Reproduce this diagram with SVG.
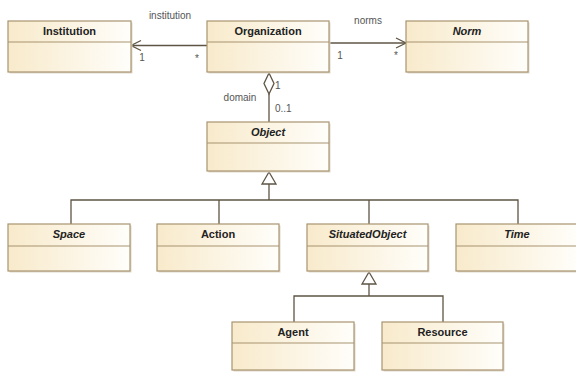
<svg xmlns="http://www.w3.org/2000/svg" width="576" height="372" viewBox="0 0 576 372">
<defs>
<linearGradient id="fill" x1="0" y1="0" x2="1" y2="0">
<stop offset="0" stop-color="#F8EACB"/>
<stop offset="1" stop-color="#FFFEFA"/>
</linearGradient>
</defs>
<style>
.box{fill:url(#fill);stroke:#A89470;stroke-width:1.2}
.shadow{fill:#E0D9CC}
.sep{stroke:#A89470;stroke-width:1.2}
.name{font-family:"Liberation Sans",Arial,sans-serif;font-size:11px;font-weight:bold;fill:#222;text-anchor:middle}
.abs{font-style:italic}
.lbl{font-family:"Liberation Sans",Arial,sans-serif;font-size:10px;fill:#555}
.ln{stroke:#5E5444;stroke-width:1.3;fill:none}
.hd{stroke:#5E5444;stroke-width:1.3;fill:#fff}
</style>
<rect width="576" height="372" fill="#fff"/>
<g id="connectors">
<line class="ln" x1="207" y1="45.5" x2="131" y2="45.5"/>
<polyline class="ln" points="141,40.5 131,45.5 141,50.5"/>
<line class="ln" x1="329" y1="43" x2="406" y2="43"/>
<polyline class="ln" points="396,38 406,43 396,48"/>
<line class="ln" x1="269" y1="94" x2="269" y2="122"/>
<path class="hd" d="M269,73 L274,83.5 L269,94 L264,83.5 Z"/>
<line class="ln" x1="269" y1="184" x2="269" y2="200"/>
<path class="hd" d="M269,172 L276,184 L262,184 Z"/>
<polyline class="ln" points="71,224 71,200 518,200 518,224"/>
<line class="ln" x1="219" y1="200" x2="219" y2="224"/>
<line class="ln" x1="369" y1="200" x2="369" y2="224"/>
<line class="ln" x1="369" y1="284" x2="369" y2="296"/>
<path class="hd" d="M369,272 L376,284 L362,284 Z"/>
<polyline class="ln" points="294,322 294,296 443,296 443,322"/>
<text class="lbl" x="170" y="19" text-anchor="middle">institution</text>
<text class="lbl" x="142" y="61" text-anchor="middle">1</text>
<text class="lbl" x="197" y="62" text-anchor="middle">*</text>
<text class="lbl" x="368" y="24" text-anchor="middle">norms</text>
<text class="lbl" x="340" y="59" text-anchor="middle">1</text>
<text class="lbl" x="396" y="59" text-anchor="middle">*</text>
<text class="lbl" x="275" y="89">1</text>
<text class="lbl" x="240" y="101" text-anchor="middle">domain</text>
<text class="lbl" x="275" y="112">0..1</text>
</g>
<g id="Institution">
<rect class="shadow" x="9.5" y="22.5" width="123" height="51"/>
<rect class="box" x="8" y="21" width="123" height="51"/>
<line class="sep" x1="8" y1="42" x2="131" y2="42"/>
<text class="name" x="69.5" y="35">Institution</text>
</g>
<g id="Organization">
<rect class="shadow" x="208.5" y="22.5" width="122" height="51"/>
<rect class="box" x="207" y="21" width="122" height="51"/>
<line class="sep" x1="207" y1="42" x2="329" y2="42"/>
<text class="name" x="268" y="35">Organization</text>
</g>
<g id="Norm">
<rect class="shadow" x="407.5" y="22.5" width="122" height="51"/>
<rect class="box" x="406" y="21" width="122" height="51"/>
<line class="sep" x1="406" y1="42" x2="528" y2="42"/>
<text class="name abs" x="467" y="35">Norm</text>
</g>
<g id="Object">
<rect class="shadow" x="208.5" y="123.5" width="122" height="49"/>
<rect class="box" x="207" y="122" width="122" height="49"/>
<line class="sep" x1="207" y1="143" x2="329" y2="143"/>
<text class="name abs" x="268" y="136">Object</text>
</g>
<g id="Space">
<rect class="shadow" x="9.5" y="225.5" width="122" height="47"/>
<rect class="box" x="8" y="224" width="122" height="47"/>
<line class="sep" x1="8" y1="246" x2="130" y2="246"/>
<text class="name abs" x="69" y="238">Space</text>
</g>
<g id="Action">
<rect class="shadow" x="158.5" y="225.5" width="122" height="47"/>
<rect class="box" x="157" y="224" width="122" height="47"/>
<line class="sep" x1="157" y1="246" x2="279" y2="246"/>
<text class="name" x="218" y="238">Action</text>
</g>
<g id="SituatedObject">
<rect class="shadow" x="308.5" y="225.5" width="121" height="47"/>
<rect class="box" x="307" y="224" width="121" height="47"/>
<line class="sep" x1="307" y1="246" x2="428" y2="246"/>
<text class="name abs" x="367.5" y="238">SituatedObject</text>
</g>
<g id="Time">
<rect class="shadow" x="457.5" y="225.5" width="122" height="47"/>
<rect class="box" x="456" y="224" width="122" height="47"/>
<line class="sep" x1="456" y1="246" x2="578" y2="246"/>
<text class="name abs" x="517" y="238">Time</text>
</g>
<g id="Agent">
<rect class="shadow" x="233.5" y="323.5" width="122" height="48"/>
<rect class="box" x="232" y="322" width="122" height="48"/>
<line class="sep" x1="232" y1="343" x2="354" y2="343"/>
<text class="name" x="293" y="336">Agent</text>
</g>
<g id="Resource">
<rect class="shadow" x="383.5" y="323.5" width="121" height="48"/>
<rect class="box" x="382" y="322" width="121" height="48"/>
<line class="sep" x1="382" y1="343" x2="503" y2="343"/>
<text class="name" x="442.5" y="336">Resource</text>
</g>
</svg>
